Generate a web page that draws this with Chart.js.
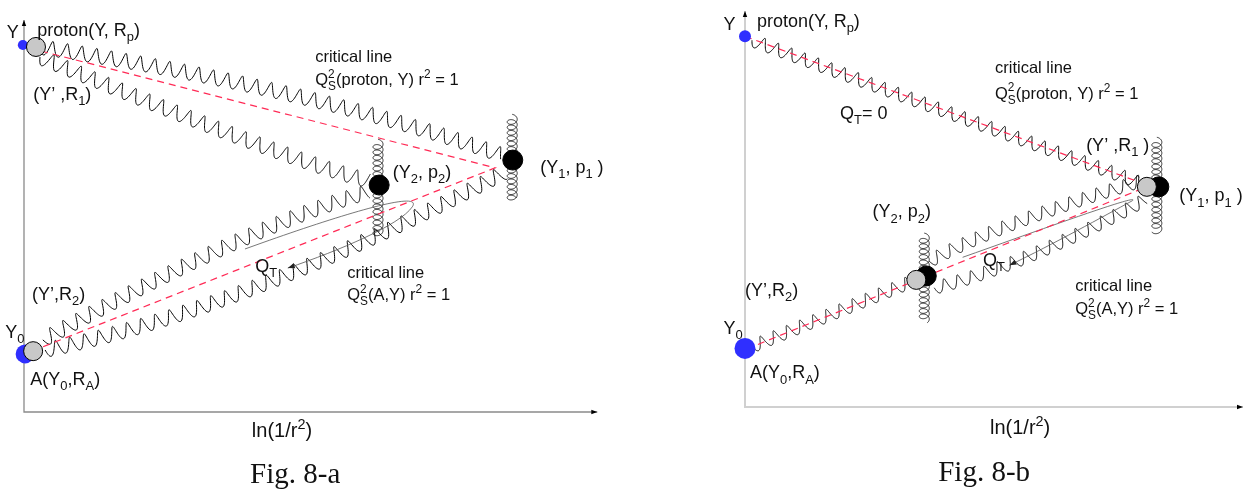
<!DOCTYPE html>
<html>
<head>
<meta charset="utf-8">
<script src="https://cdn.jsdelivr.net/npm/chart.js@4"></script>
<style>
html, body { margin: 0; padding: 0; background: #fff; }
#wrap { position: relative; width: 1254px; height: 495px; }
canvas { position: absolute; top: 0; }
</style>
</head>
<body>
<div id="wrap">
  <canvas id="figA" width="627" height="495" style="left:0"></canvas>
  <canvas id="figB" width="627" height="495" style="left:627px"></canvas>
</div>
<script>
// both panels: x = ln(1/r^2), y = rapidity, in axis units 0..10

// --- Fig. 8-a ---
const aAxis = [[0, 10.05], [0, 0], [10.04, 0]];
const aBlue = [[-0.02, 9.41], [0.02, 1.49]];
const aGrey = [[0.21, 9.36], [0.16, 1.56]];
const aBlack = [[8.56, 6.46], [6.22, 5.82]];
const aCritical = [[-0.11, 9.41], [8.25, 6.26], [0.19, 1.59]];
// gluon lines: start, control, end
const aGluons = [
    [[0.28, 9.36], [4.97, 8.33], [8.37, 6.59]],
    [[0.28, 9.10], [4.83, 6.33], [6.02, 5.95]],
    [[0.33, 1.85], [4.01, 4.82], [6.02, 5.64]],
    [[0.37, 1.59], [3.85, 2.62], [8.39, 6.13]]
];
// ladders: x, top, bottom
const aLadders = [[8.55, 7.54, 5.44], [6.20, 6.90, 4.54]];
// Q_T loop: start + two cubic pieces
const aQt = [[3.87, 4.18], [5.36, 4.97], [7.02, 5.74], [6.80, 5.26], [6.58, 4.79], [5.53, 4.15], [4.62, 3.69]];
const aLabels = [
    ['Y', -0.30, 9.59, 'lab'],
    ['proton(Y, R_{p})', 0.23, 9.64, 'lab'],
    ['(Y\u2019 ,R_{1})', 0.16, 8.00, 'lab'],
    ['critical line', 5.10, 8.97, 'crit'],
    ['Q_{S}^{2}(proton, Y) r^{2} = 1', 5.10, 8.38, 'crit'],
    ['(Y_{2}, p_{2})', 6.46, 6.00, 'lab'],
    ['(Y_{1}, p_{1} )', 9.04, 6.13, 'lab'],
    ['Q_{T}', 4.05, 3.59, 'lab'],
    ['critical line', 5.66, 3.44, 'crit'],
    ['Q_{S}^{2}(A,Y) r^{2} = 1', 5.66, 2.87, 'crit'],
    ['(Y\u2019,R_{2})', 0.14, 2.87, 'lab'],
    ['Y_{0}', -0.33, 1.90, 'lab'],
    ['A(Y_{0},R_{A})', 0.11, 0.69, 'lab'],
    ['ln(1/r^{2})', 3.99, -0.64, 'ax'],
    ['Fig. 8-a', 3.96, -1.82, 'fig']
];

// --- Fig. 8-b ---
const bAxis = [[0, 10.0], [0, 0], [10.0, 0]];
const bBlue = [[0, 9.36], [0, 1.48]];
const bGrey = [[3.44, 3.21], [8.07, 5.56]];
const bBlack = [[3.64, 3.31], [8.31, 5.56]];
const bCriticalProton = [[0, 9.36], [8.17, 5.56]];
const bCriticalNucleus = [[0.26, 1.58], [7.97, 5.51]];
const bGluons = [
    [[0.14, 9.26], [4.05, 7.45], [7.97, 5.65]],
    [[0.14, 1.53], [1.74, 2.35], [3.33, 3.16]],
    [[3.70, 3.68], [5.08, 4.63], [7.93, 5.70]],
    [[3.80, 3.01], [5.65, 3.59], [8.03, 5.23]]
];
const bLadders = [[8.27, 6.72, 4.44], [3.60, 4.30, 2.20]];
const bQt = [[4.37, 3.78], [5.81, 4.42], [7.97, 5.41], [7.78, 5.21], [7.19, 4.81], [6.20, 4.12], [5.31, 3.58]];
const bLabels = [
    ['Y', -0.43, 9.51, 'lab'],
    ['proton(Y, R_{p})', 0.24, 9.60, 'lab'],
    ['Q_{T}= 0', 1.91, 7.28, 'lab'],
    ['critical line', 5.02, 8.44, 'crit'],
    ['Q_{S}^{2}(proton, Y) r^{2} = 1', 5.02, 7.78, 'crit'],
    ['(Y\u2019 ,R_{1} )', 6.85, 6.47, 'lab'],
    ['(Y_{1}, p_{1} )', 8.72, 5.19, 'lab'],
    ['Q_{T}', 4.78, 3.56, 'lab'],
    ['critical line', 6.63, 2.94, 'crit'],
    ['Q_{S}^{2}(A,Y) r^{2} = 1', 6.63, 2.35, 'crit'],
    ['(Y_{2}, p_{2})', 2.56, 4.79, 'lab'],
    ['(Y\u2019,R_{2})', 0.00, 2.81, 'lab'],
    ['Y_{0}', -0.43, 1.85, 'lab'],
    ['A(Y_{0},R_{A})', 0.10, 0.72, 'lab'],
    ['ln(1/r^{2})', 4.92, -0.69, 'ax'],
    ['Fig. 8-b', 3.88, -1.88, 'fig']
];

const fonts = {
    lab: [18, '"Liberation Sans", Arial, sans-serif'],
    crit: [16.5, '"Liberation Sans", Arial, sans-serif'],
    ax: [20, '"Liberation Sans", Arial, sans-serif'],
    fig: [29, '"Liberation Serif", "Times New Roman", serif']
};

const xy = arr => arr.map(p => ({ x: p[0], y: p[1] }));

function drawRich(ctx, str, x, y, size, family) {
    const parts = str.split(/(_\{[^}]*\}\^\{[^}]*\}|_\{[^}]*\}|\^\{[^}]*\})/);
    const small = size * 0.72;
    ctx.textAlign = 'left';
    ctx.textBaseline = 'alphabetic';
    for (const p of parts) {
        if (!p) continue;
        let m;
        if ((m = p.match(/^_\{([^}]*)\}\^\{([^}]*)\}$/))) {
            ctx.font = small + 'px ' + family;
            ctx.fillText(m[1], x, y + size * 0.3);
            ctx.fillText(m[2], x, y - size * 0.45);
            x += Math.max(ctx.measureText(m[1]).width, ctx.measureText(m[2]).width);
        } else if ((m = p.match(/^_\{([^}]*)\}$/))) {
            ctx.font = small + 'px ' + family;
            ctx.fillText(m[1], x, y + size * 0.3);
            x += ctx.measureText(m[1]).width;
        } else if ((m = p.match(/^\^\{([^}]*)\}$/))) {
            ctx.font = small + 'px ' + family;
            ctx.fillText(m[1], x, y - size * 0.42);
            x += ctx.measureText(m[1]).width;
        } else {
            ctx.font = size + 'px ' + family;
            ctx.fillText(p, x, y);
            x += ctx.measureText(p).width;
        }
    }
}

function arrowHead(ctx, from, to, len, half) {
    const ang = Math.atan2(to[1] - from[1], to[0] - from[0]);
    const c = Math.cos(ang), s = Math.sin(ang);
    ctx.beginPath();
    ctx.moveTo(to[0], to[1]);
    ctx.lineTo(to[0] - len * c + half * s, to[1] - len * s - half * c);
    ctx.lineTo(to[0] - len * c - half * s, to[1] - len * s + half * c);
    ctx.closePath();
    ctx.fill();
}

// wavy (slightly skewed) line along a quadratic curve
function drawWave(ctx, a, c, b, amp, wl, skew) {
    const n = 900, pts = [], len = [0];
    for (let i = 0; i <= n; i++) {
        const t = i / n, u = 1 - t;
        pts.push([u * u * a[0] + 2 * u * t * c[0] + t * t * b[0], u * u * a[1] + 2 * u * t * c[1] + t * t * b[1]]);
        if (i > 0) len.push(len[i - 1] + Math.hypot(pts[i][0] - pts[i - 1][0], pts[i][1] - pts[i - 1][1]));
    }
    ctx.beginPath();
    for (let i = 0; i <= n; i++) {
        const j0 = Math.max(0, i - 1), j1 = Math.min(n, i + 1);
        const dx = pts[j1][0] - pts[j0][0], dy = pts[j1][1] - pts[j0][1];
        const d = Math.hypot(dx, dy) || 1;
        const ph = 2 * Math.PI * len[i] / wl;
        const off = amp * Math.sin(ph), along = skew * (1 - Math.cos(ph));
        const x = pts[i][0] - dy / d * off + dx / d * along;
        const y = pts[i][1] + dx / d * off + dy / d * along;
        if (i === 0) ctx.moveTo(x, y); else ctx.lineTo(x, y);
    }
    ctx.stroke();
}

function drawCoil(ctx, x, top, bot, rx, ry, pitch) {
    const L = bot - top, N = L / pitch, steps = Math.ceil(N * 48);
    ctx.beginPath();
    for (let i = 0; i <= steps; i++) {
        const t = i / steps, th = 2 * Math.PI * N * t;
        const px = x + rx * Math.sin(th), py = top + L * t - ry * Math.cos(th);
        if (i === 0) ctx.moveTo(px, py); else ctx.lineTo(px, py);
    }
    ctx.stroke();
}

function makePanel(id, pad, g) {
    const decor = {
        id: 'decor',
        beforeDatasetsDraw(chart) {
            const ctx = chart.ctx, sx = chart.scales.x, sy = chart.scales.y;
            const P = p => [sx.getPixelForValue(p[0]), sy.getPixelForValue(p[1])];
            ctx.save();
            ctx.strokeStyle = '#000';
            ctx.lineWidth = 1;
            g.gluons.forEach(q => drawWave(ctx, P(q[0]), P(q[1]), P(q[2]), g.amp, g.wl, 0.9));
            ctx.lineWidth = 0.8;
            g.ladders.forEach(l => drawCoil(ctx, sx.getPixelForValue(l[0]), sy.getPixelForValue(l[1]), sy.getPixelForValue(l[2]), 5, 3.6, 5.4));
            // Q_T loop
            const q = g.qt.map(P);
            ctx.strokeStyle = '#555';
            ctx.fillStyle = '#222';
            ctx.lineWidth = 0.8;
            ctx.beginPath();
            ctx.moveTo(q[0][0], q[0][1]);
            ctx.bezierCurveTo(q[1][0], q[1][1], q[2][0], q[2][1], q[3][0], q[3][1]);
            ctx.bezierCurveTo(q[4][0], q[4][1], q[5][0], q[5][1], q[6][0], q[6][1]);
            ctx.stroke();
            arrowHead(ctx, q[5], q[6], 7, 2.6);
            ctx.restore();
        },
        afterDraw(chart) {
            const ctx = chart.ctx, sx = chart.scales.x, sy = chart.scales.y;
            const P = p => [sx.getPixelForValue(p[0]), sy.getPixelForValue(p[1])];
            ctx.save();
            ctx.fillStyle = '#000';
            const ax = g.axis.map(P);
            arrowHead(ctx, ax[1], ax[0], 6, 2.2);
            arrowHead(ctx, ax[1], ax[2], 6, 2.2);
            ctx.fillStyle = '#111';
            g.labels.forEach(l => {
                const f = fonts[l[3]];
                drawRich(ctx, l[0], sx.getPixelForValue(l[1]), sy.getPixelForValue(l[2]), f[0], f[1]);
            });
            ctx.restore();
        }
    };

    const dashed = g.critical.map(line => ({
        data: xy(line), showLine: true, borderColor: '#ff2a55', borderWidth: 1.2,
        borderDash: [7, 5], pointRadius: 0, clip: false
    }));

    new Chart(document.getElementById(id), {
        type: 'scatter',
        data: {
            datasets: [
                { data: xy(g.grey), pointRadius: 9.5, backgroundColor: '#c8c8c8', borderColor: '#000', pointBorderWidth: 1, clip: false },
                { data: xy(g.blue), pointRadius: g.blueR, backgroundColor: '#2f2fff', borderWidth: 0, pointBorderWidth: 0, clip: false },
                { data: xy(g.black), pointRadius: 10, backgroundColor: '#000', borderColor: '#000', pointBorderWidth: 1, clip: false },
                ...dashed,
                { data: xy(g.axis), showLine: true, borderColor: g.axisColor, borderWidth: g.axisWidth, pointRadius: 0, clip: false }
            ]
        },
        options: {
            responsive: false,
            animation: false,
            devicePixelRatio: 1,
            events: [],
            layout: { padding: pad },
            plugins: { legend: { display: false }, tooltip: { enabled: false } },
            scales: {
                x: { type: 'linear', min: 0, max: 10, display: false },
                y: { type: 'linear', min: 0, max: 10, display: false }
            }
        },
        plugins: [decor]
    });
}

makePanel('figA', { left: 24, right: 32, top: 22, bottom: 83 }, {
    axis: aAxis, blue: aBlue, blueR: [5, 9.5], grey: aGrey, black: aBlack,
    critical: [aCritical], gluons: aGluons, ladders: aLadders, qt: aQt, labels: aLabels,
    amp: 7.4, wl: 14.8, axisColor: '#8a8a8a', axisWidth: 1.3
});
makePanel('figB', { left: 118, right: 1, top: 2, bottom: 88 }, {
    axis: bAxis, blue: bBlue, blueR: [6, 10.5], grey: bGrey, black: bBlack,
    critical: [bCriticalProton, bCriticalNucleus], gluons: bGluons, ladders: bLadders, qt: bQt, labels: bLabels,
    amp: 6.4, wl: 14.2, axisColor: '#d0d0d0', axisWidth: 2
});
</script>
</body>
</html>
